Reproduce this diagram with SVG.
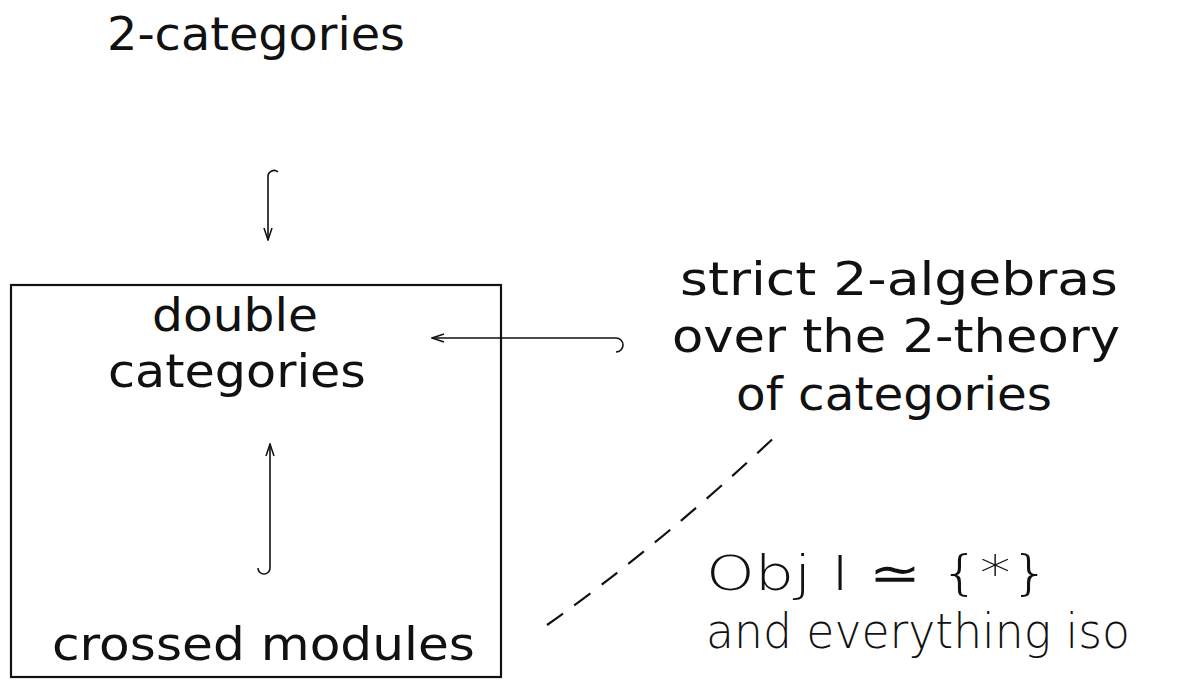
<svg xmlns="http://www.w3.org/2000/svg" width="1188" height="687" viewBox="0 0 1188 687">
<style>
.t{font-family:"DejaVu Sans","Liberation Sans",sans-serif;font-size:47px;fill:#111}
.h{font-family:"DejaVu Sans","Liberation Sans",sans-serif;font-weight:200;font-size:48px;fill:#111}
.c{fill:none;stroke:#111;stroke-width:1.6}
</style>
<defs>
<marker id="ah" markerWidth="14" markerHeight="10" refX="13" refY="5" orient="auto" markerUnits="userSpaceOnUse">
<path d="M1,1 L13,5 L1,9" fill="none" stroke="#111" stroke-width="1.5"/>
</marker>
</defs>
<rect width="1188" height="687" fill="#fff"/>
<g id="twocat"><text class="t" x="107" y="50" textLength="298" lengthAdjust="spacingAndGlyphs">2-categories</text></g>
<g id="box">
<rect x="11" y="285" width="490" height="392" fill="none" stroke="#111" stroke-width="2.2"/>
</g>
<g id="double"><text class="t" x="152" y="331" textLength="166" lengthAdjust="spacingAndGlyphs">double</text>
<text class="t" x="108" y="387" textLength="258" lengthAdjust="spacingAndGlyphs">categories</text></g>
<g id="crossed"><text class="t" x="52" y="660" textLength="423" lengthAdjust="spacingAndGlyphs">crossed modules</text></g>
<g id="strict">
<text class="t" x="680" y="295" textLength="438" lengthAdjust="spacingAndGlyphs">strict 2-algebras</text>
<text class="t" x="672" y="352" textLength="448" lengthAdjust="spacingAndGlyphs">over the 2-theory</text>
<text class="t" x="736" y="410" textLength="316" lengthAdjust="spacingAndGlyphs">of categories</text>
</g>
<g id="note">
<text class="h" x="706" y="590" font-size="54" textLength="344" lengthAdjust="spacingAndGlyphs">Obj I ≃ {*}</text>
<text class="h" x="706" y="648" textLength="424" lengthAdjust="spacingAndGlyphs">and everything iso</text>
</g>
<g id="connectors">
<path class="c" d="M268,176 A6,6 0 0 1 278,172 M268,176 L268,240" marker-end="url(#ah)"/>
<path class="c" d="M258,568 A6,6 0 0 0 270,568 L270,444" marker-end="url(#ah)"/>
<path class="c" d="M616,352 A7,7 0 0 0 616,338 L432,338" marker-end="url(#ah)"/>
<path d="M547,625 Q660,545 779,433" fill="none" stroke="#111" stroke-width="2.2" stroke-dasharray="20 14"/>
</g>
</svg>
